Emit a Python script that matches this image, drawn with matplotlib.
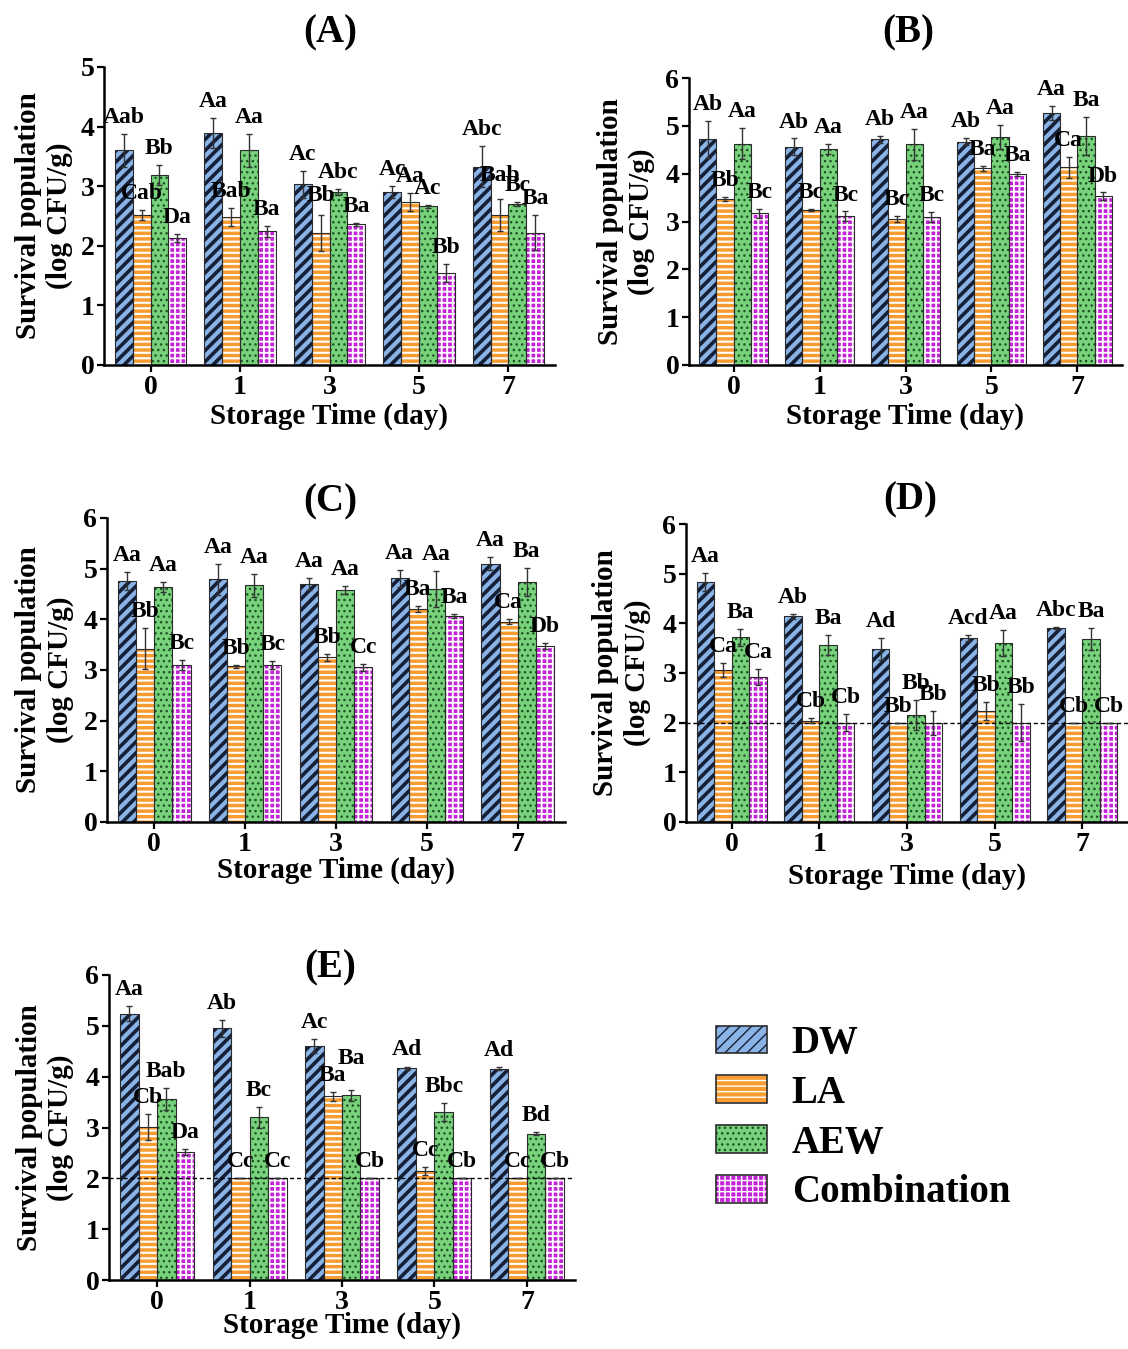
import matplotlib
matplotlib.use("Agg")
import matplotlib.pyplot as plt
from matplotlib.patches import Patch
import numpy as np

plt.rcParams["font.family"] = ["Liberation Serif", "DejaVu Serif"]
plt.rcParams["font.weight"] = "bold"
plt.rcParams["axes.labelweight"] = "bold"

DAYS = ["0", "1", "3", "5", "7"]
TREATMENTS = ["DW", "LA", "AEW", "Combination"]

# rows: DW, LA, AEW, Combination ; columns: day 0, 1, 3, 5, 7
A_MEAN = [[3.60, 3.89, 3.03, 2.91, 3.33],
          [2.52, 2.49, 2.22, 2.73, 2.52],
          [3.19, 3.60, 2.91, 2.66, 2.70],
          [2.13, 2.24, 2.36, 1.54, 2.22]]
A_ERR = [[0.28, 0.25, 0.22, 0.10, 0.34],
         [0.08, 0.15, 0.30, 0.15, 0.27],
         [0.17, 0.27, 0.05, 0.02, 0.04],
         [0.07, 0.10, 0.03, 0.15, 0.29]]
A_LAB = [["Aab", "Aa", "Ac", "Ac", "Abc"],
         ["Cab", "Bab", "Bb", "Aa", "Bab"],
         ["Bb", "Aa", "Abc", "Ac", "Bc"],
         ["Da", "Ba", "Ba", "Bb", "Ba"]]

B_MEAN = [[4.72, 4.56, 4.72, 4.67, 5.27],
          [3.47, 3.24, 3.05, 4.11, 4.13],
          [4.63, 4.52, 4.61, 4.77, 4.78],
          [3.17, 3.11, 3.10, 3.99, 3.53]]
B_ERR = [[0.39, 0.18, 0.07, 0.08, 0.15],
         [0.05, 0.03, 0.06, 0.05, 0.22],
         [0.33, 0.10, 0.33, 0.25, 0.40],
         [0.09, 0.10, 0.10, 0.04, 0.08]]
B_LAB = [["Ab", "Ab", "Ab", "Ab", "Aa"],
         ["Bb", "Bc", "Bc", "Ba", "Ca"],
         ["Aa", "Aa", "Aa", "Aa", "Ba"],
         ["Bc", "Bc", "Bc", "Ba", "Db"]]

C_MEAN = [[4.75, 4.79, 4.69, 4.81, 5.10],
          [3.42, 3.07, 3.25, 4.20, 3.95],
          [4.64, 4.67, 4.58, 4.60, 4.74],
          [3.10, 3.10, 3.05, 4.07, 3.48]]
C_ERR = [[0.18, 0.30, 0.12, 0.17, 0.13],
         [0.40, 0.03, 0.07, 0.06, 0.05],
         [0.10, 0.22, 0.08, 0.35, 0.27],
         [0.10, 0.08, 0.06, 0.04, 0.06]]
C_LAB = [["Aa", "Aa", "Aa", "Aa", "Aa"],
         ["Bb", "Bb", "Bb", "Ba", "Ca"],
         ["Aa", "Aa", "Aa", "Aa", "Ba"],
         ["Bc", "Bc", "Cc", "Ba", "Db"]]

D_MEAN = [[4.83, 4.14, 3.48, 3.71, 3.91],
          [3.06, 2.04, 2.00, 2.24, 2.00],
          [3.72, 3.57, 2.16, 3.60, 3.69],
          [2.92, 2.00, 2.00, 2.00, 2.00]]
D_ERR = [[0.18, 0.05, 0.22, 0.06, 0.02],
         [0.15, 0.05, 0.00, 0.18, 0.00],
         [0.17, 0.20, 0.30, 0.26, 0.22],
         [0.17, 0.17, 0.24, 0.37, 0.00]]
D_LAB = [["Aa", "Ab", "Ad", "Acd", "Abc"],
         ["Ca", "Cb", "Bb", "Bb", "Cb"],
         ["Ba", "Ba", "Bb", "Aa", "Ba"],
         ["Ca", "Cb", "Bb", "Bb", "Cb"]]

E_MEAN = [[5.24, 4.95, 4.60, 4.17, 4.16],
          [3.01, 2.00, 3.61, 2.14, 2.00],
          [3.56, 3.20, 3.63, 3.30, 2.88],
          [2.52, 2.00, 2.00, 2.00, 2.00]]
E_ERR = [[0.15, 0.17, 0.14, 0.03, 0.03],
         [0.25, 0.00, 0.08, 0.08, 0.00],
         [0.22, 0.20, 0.10, 0.18, 0.03],
         [0.06, 0.00, 0.00, 0.00, 0.00]]
E_LAB = [["Aa", "Ab", "Ac", "Ad", "Ad"],
         ["Cb", "Cc", "Ba", "Cc", "Cc"],
         ["Bab", "Bc", "Ba", "Bbc", "Bd"],
         ["Da", "Cc", "Cb", "Cb", "Cb"]]

DETECTION_LIMIT = 2.0

# face colour, hatch, hatch colour, hatch line width
STYLES = [
    ("#8ab4e6", "///", "#151f36", 2.6),
    ("#f89c32", "---", "white", 1.5),
    ("#78d27c", "...", "#1d5423", 1.0),
    ("#c424d8", "+++", "white", 1.3),
]
OUTLINE = "#2b2b2b"
WIDTH = 0.2

# letters lifted a little higher, as in the original (panel, series, day) -> dy
LIFT = {("A", 1, 4): 0.12, ("E", 2, 2): 0.3, ("A", 1, 2): 0.05}


def draw_panel(ax, name, means, errs, labels, ymax, lod=False):
    x = np.arange(len(DAYS))
    offsets = (np.arange(4) - 1.5) * WIDTH
    for i, (face, hatch, hcol, hlw) in enumerate(STYLES):
        xs = x + offsets[i]
        with plt.rc_context({"hatch.linewidth": hlw}):
            bars = ax.bar(xs, means[i], WIDTH, color=face, edgecolor=hcol,
                          hatch=hatch, linewidth=0, zorder=2)
            for b in bars:
                if hasattr(b, "set_hatch_linewidth"):
                    b.set_hatch_linewidth(hlw)
        ax.bar(xs, means[i], WIDTH, fill=False, edgecolor=OUTLINE,
               linewidth=0.8, zorder=3)
        ax.errorbar(xs, means[i], yerr=errs[i], fmt="none", ecolor="#333333",
                    elinewidth=1.0, capsize=2.5, capthick=1.0, zorder=4)
        for j, (xi, m, e, lab) in enumerate(zip(xs, means[i], errs[i], labels[i])):
            dy = LIFT.get((name, i, j), 0.0)
            ax.text(xi, m + e + 0.02 * ymax + dy, lab, ha="center", va="bottom",
                    fontsize=17, fontweight="bold", zorder=5)
    if lod:
        ax.axhline(DETECTION_LIMIT, color="black", linestyle=(0, (3, 2)),
                   linewidth=1.0, zorder=3.5)
    ax.set_xlim(-0.52, len(DAYS) - 0.48)
    ax.set_ylim(0, ymax)
    ax.set_yticks(range(0, ymax + 1))
    ax.set_xticks(x)
    ax.set_xticklabels(DAYS)
    for s in ("top", "right"):
        ax.spines[s].set_visible(False)
    for s in ("left", "bottom"):
        ax.spines[s].set_linewidth(1.8)
    ax.tick_params(axis="both", labelsize=20, width=1.6, length=5, pad=2)
    ax.set_ylabel("Survival population\n(log CFU/g)", fontsize=21,
                  fontweight="bold")
    ax.set_xlabel("Storage Time (day)", fontsize=21, fontweight="bold")


W, H = 1128, 1349
fig = plt.figure(figsize=(W / 100, H / 100), dpi=100)


def px_axes(left, right, top, bottom):
    return fig.add_axes([left / W, 1 - bottom / H, (right - left) / W,
                         (bottom - top) / H])


panels = [
    # name, data, axes box (left, right, top, bottom), ymax, lod, title pos, ylabel x, xlabel pad
    ("A", A_MEAN, A_ERR, A_LAB, (104, 555, 67, 365), 5, False, (330, 33), -0.068, 2),
    ("B", B_MEAN, B_ERR, B_LAB, (689, 1122, 78, 365), 6, False, (908, 33), -0.078, 2),
    ("C", C_MEAN, C_ERR, C_LAB, (107, 565, 518, 822), 6, False, (330, 502), -0.072, 0),
    ("D", D_MEAN, D_ERR, D_LAB, (686, 1128, 524, 822), 6, True, (910, 500), -0.08, 4),
    ("E", E_MEAN, E_ERR, E_LAB, (109, 575, 975, 1280), 6, True, (330, 968), -0.075, -2),
]

for name, means, errs, labels, box, ymax, lod, tpos, ylx, xpad in panels:
    ax = px_axes(*box)
    draw_panel(ax, name, means, errs, labels, ymax, lod)
    ax.yaxis.set_label_coords(ylx, 0.5)
    ax.xaxis.labelpad = xpad
    fig.text(tpos[0] / W, 1 - tpos[1] / H, f"({name})", ha="center",
             va="center", fontsize=28, fontweight="bold")

handles = []
for face, hatch, hcol, hlw in STYLES:
    with plt.rc_context({"hatch.linewidth": hlw}):
        p = Patch(facecolor=face, edgecolor=hcol, hatch=hatch, linewidth=0)
        if hasattr(p, "set_hatch_linewidth"):
            p.set_hatch_linewidth(hlw)
    handles.append((p, Patch(fill=False, edgecolor=OUTLINE, linewidth=1.2)))

fig.legend(handles, TREATMENTS, loc="upper left",
           bbox_to_anchor=(716 / W, 1 - 1025 / H), frameon=False,
           prop={"size": 28, "weight": "bold"}, handlelength=1.3,
           handleheight=0.72, handletextpad=0.65, labelspacing=0.33,
           borderpad=0, borderaxespad=0)

fig.savefig("out.png", dpi=100)
